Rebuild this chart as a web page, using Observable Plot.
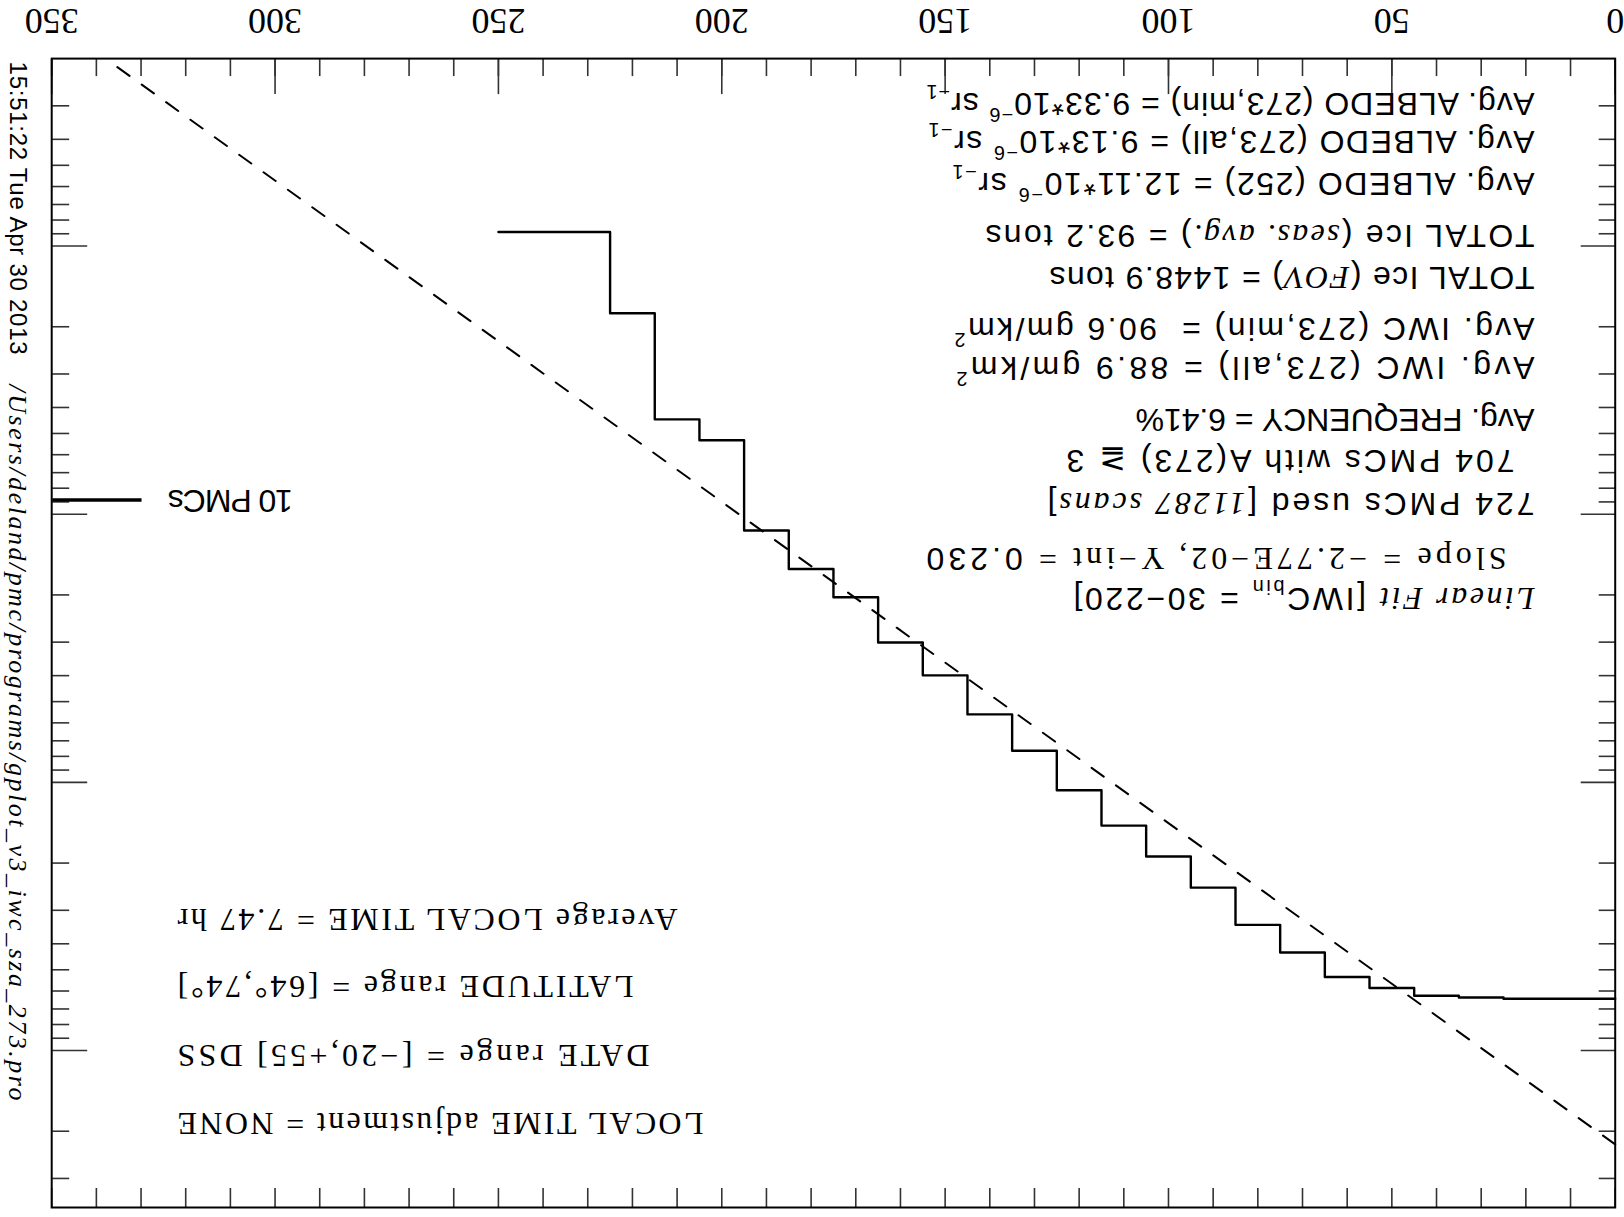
<!DOCTYPE html>
<html><head><meta charset="utf-8">
<script src="https://cdn.jsdelivr.net/npm/d3@7"></script>
<script src="https://cdn.jsdelivr.net/npm/@observablehq/plot@0.6"></script>
<style>
html,body{margin:0;padding:0;background:#fff;overflow:hidden}
#wrap{width:1624px;height:1217px;transform:rotate(180deg);transform-origin:50% 50%;}
#wrap svg{display:block;overflow:visible}
#wrap svg text{white-space:pre}
</style></head><body><div id="wrap"></div>
<script>
// ---- data ----
// cumulative frequency (% of scans) of PMCs with IWC above each bin edge
const binEdges = [0,25,35,45,55,65,75,85,95,105,115,125,135,145,155,165,175,185,195,205,215,225,250];
const binFreq  = [6.41,6.34,6.25,5.85,5.32,4.31,3.40,2.47,1.89,1.45,1.07,0.762,0.558,0.399,0.301,0.204,0.160,0.115,0.053,0.0443,0.0178,0.00886];
// linear fit (dashed), end points where it meets the frame
const fitX = [0, 337.6];
const fitY = [22.4, 0.00202];
// "10 PMCs" reference bar
const refLevel = [0.0886];
const refX = [330, 350];
const refLabel = ["10 PMCs"];
// ticks
const xMajor = [0,50,100,150,200,250,300,350];
const xMinor = [0,10,20,30,40,50,60,70,80,90,100,110,120,130,140,150,160,170,180,190,200,210,220,230,240,250,260,270,280,290,300,310,320,330,340,350];
const yMajor = [0.01,0.1,1,10];
const yMinor = [0.003,0.004,0.005,0.006,0.007,0.008,0.009,0.02,0.03,0.04,0.05,0.06,0.07,0.08,0.09,0.2,0.3,0.4,0.5,0.6,0.7,0.8,0.9,2,3,4,5,6,7,8,9,20,30];
// annotation texts  (^{} superscript, _{} subscript, *{} italic serif, ~{} roman serif)
const infoLines = [
  "*{Linear Fit} [IWC_{bin} = 30−220]",
  "~{Slope = −2.77E−02, Y−int = }0.230",
  "724 PMCs used [*{11287 scans}]",
  "704 PMCs with A(273) ≧ 3",
  "Avg. FREQUENCY = 6.41%",
  "Avg. IWC (273,all) = 88.9 gm/km^{2}",
  "Avg. IWC (273,min) =  90.6 gm/km^{2}",
  "TOTAL Ice (*{FOV}) = 1448.9 tons",
  "TOTAL Ice (*{seas. avg.}) = 93.2 tons",
  "Avg. ALBEDO (252) = 12.11*10^{−6} sr_{−1}",
  "Avg. ALBEDO (273,all) = 9.13*10^{−6} sr_{−1}",
  "Avg. ALBEDO (273,min) = 9.33*10^{−6} sr_{−1}"
];
const condLines = [
  "LOCAL TIME adjustment = NONE",
  "DATE range = [−20,+55] DSS",
  "LATITUDE range = [64°,74°]",
  "Average LOCAL TIME = 7.47 hr"
];
const stamp = ["15:51:22 Tue Apr 30 2013"];
const path = ["/Users/deland/pmc/programs/gplot_v3_iwc_sza_273.pro"];

// ---- layout (pixels, unrotated page) ----
const W = 1624, H = 1217;
const mL = 8.3, mR = 52.2, mT = 9, mB = 59.1;
const fW = W - mL - mR, fH = H - mT - mB;
const SANS = "Liberation Sans, Arial, sans-serif";
const SERIF = "Liberation Serif, DejaVu Serif, serif";
const F = 32;
const infoX = [89,117,89,109,89,89,89,89,89,89,89,89];
const infoY = [618,658,713,756,797,849,888,939,981,1033,1075,1113];
const infoLen = [461,580,487,448,399,578,580,485,549,582,606,608];
const condY = [93,161,230,297];
const condLen = [526,472,456,500];

const stepData = binEdges.map((e, i) => ({x: e, y: binFreq[Math.min(i, binFreq.length - 1)]}));
const fitData = fitX.map((x, i) => ({x, y: fitY[i]}));

const lenMap = new Map();
infoLines.forEach((t, i) => lenMap.set(t, infoLen[i]));
condLines.forEach((t, i) => lenMap.set(t, condLen[i]));
lenMap.set(stamp[0], 293); lenMap.set(path[0], 716); lenMap.set(refLabel[0], 125);

const tickStyle = {stroke: "#333", strokeWidth: 1.6};
const marks = [
  Plot.tickX(xMinor, {x: d => d, insetTop: fH - 17, ...tickStyle}),
  Plot.tickX(xMajor, {x: d => d, insetTop: fH - 35, ...tickStyle}),
  Plot.tickX(xMinor, {x: d => d, insetBottom: fH - 20, ...tickStyle}),
  Plot.tickY(yMinor, {y: d => d, insetRight: fW - 17, ...tickStyle}),
  Plot.tickY(yMajor, {y: d => d, insetRight: fW - 35, ...tickStyle}),
  Plot.tickY(yMinor, {y: d => d, insetLeft: fW - 17, ...tickStyle}),
  Plot.tickY(yMajor, {y: d => d, insetLeft: fW - 35, ...tickStyle}),
  Plot.frame({stroke: "#000", strokeWidth: 2}),
  Plot.text(xMajor, {x: d => d, frameAnchor: "bottom", dy: 38, lineAnchor: "middle", fontSize: 36, fontFamily: SERIF, fill: "#000"}),
  Plot.line(stepData, {x: "x", y: "y", curve: "step-after", stroke: "#000", strokeWidth: 2.4}),
  Plot.line(fitData, {x: "x", y: "y", stroke: "#000", strokeWidth: 2, strokeDasharray: "15,15"}),
  Plot.ruleY(refLevel, {y: d => d, x1: refX[0], x2: refX[1], stroke: "#000", strokeWidth: 3.5}),
  Plot.text(refLabel, {x: 324, y: refLevel[0], textAnchor: "end", lineAnchor: "middle", fontSize: F, fontFamily: SANS, fill: "#000"}),
  Plot.text(stamp, {frameAnchor: "bottom-right", dx: 34, dy: -3, rotate: -90, textAnchor: "start", lineAnchor: "middle", fontSize: 24, fontFamily: SANS, fill: "#000"}),
  Plot.text(path, {frameAnchor: "bottom-right", dx: 34, dy: 832 - (H - mB), rotate: -90, textAnchor: "start", lineAnchor: "middle", fontSize: 26, fontStyle: "italic", fontFamily: SERIF, fill: "#000"}),
  ...infoLines.map((t, i) => Plot.text([t], {frameAnchor: "bottom-left", dx: infoX[i] - mL, dy: infoY[i] - (H - mB), textAnchor: "start", lineAnchor: "middle", fontSize: F, fontFamily: SANS, fill: "#000"})),
  ...condLines.map((t, i) => Plot.text([t], {frameAnchor: "top-right", dx: 1446 - (W - mR), dy: condY[i] - mT, textAnchor: "end", lineAnchor: "middle", fontSize: 32, fontFamily: SERIF, fill: "#000"}))
];

const chart = Plot.plot({
  width: W, height: H,
  marginLeft: mL, marginRight: mR, marginTop: mT, marginBottom: mB,
  x: {domain: [0, 350], axis: null},
  y: {type: "log", domain: [0.002, 38.5], axis: null},
  style: {background: "#fff", color: "#000", overflow: "visible"},
  marks
});
document.getElementById("wrap").appendChild(chart);

// rich text: sub/superscripts and font switches inside the annotation lines; fitted widths
const NS = "http://www.w3.org/2000/svg";
const re = /([\^_*~])\{([^}]*)\}/g;
chart.querySelectorAll("text").forEach(t => {
  const s = t.textContent;
  if (lenMap.has(s)) { t.setAttribute("textLength", lenMap.get(s)); t.setAttribute("lengthAdjust", "spacing"); }
  if (!/[\^_*~]\{/.test(s)) return;
  const parts = []; let last = 0;
  s.replace(re, (m, k, c, off) => { if (off > last) parts.push(["", s.slice(last, off)]); parts.push([k, c]); last = off + m.length; return m; });
  if (last < s.length) parts.push(["", s.slice(last)]);
  t.textContent = "";
  let shift = 0;
  for (const [k, c] of parts) {
    const ts = document.createElementNS(NS, "tspan");
    ts.textContent = c;
    let target = 0;
    if (k === "^") { ts.setAttribute("font-size", 0.62 * F); target = -0.45 * F; }
    else if (k === "_") { ts.setAttribute("font-size", 0.62 * F); target = 0.25 * F; }
    else if (k === "*") { ts.setAttribute("font-family", SERIF); ts.setAttribute("font-style", "italic"); }
    else if (k === "~") { ts.setAttribute("font-family", SERIF); }
    if (target !== shift) { ts.setAttribute("dy", target - shift); shift = target; }
    t.appendChild(ts);
  }
});
</script></body></html>
